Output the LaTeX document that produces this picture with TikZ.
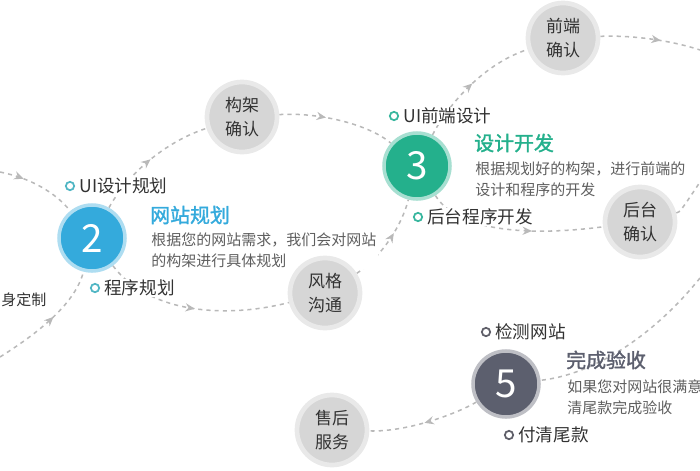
\documentclass[tikz,border=0pt]{standalone}
\usepackage{fontspec}
\setmainfont{Noto Sans CJK SC}
\newfontfamily\headfont[FakeBold=1.6]{Noto Sans CJK SC}
\usetikzlibrary{arrows.meta,decorations.markings,backgrounds}
\definecolor{stepblue}{RGB}{52,170,220}
\definecolor{stepgreen}{RGB}{36,176,140}
\definecolor{stepdark}{RGB}{92,95,110}
\definecolor{dotblue}{RGB}{80,182,196}
\definecolor{dotgreen}{RGB}{56,182,158}
\definecolor{dotdark}{RGB}{95,95,105}
\definecolor{flowgray}{RGB}{185,185,185}
\definecolor{ballgray}{RGB}{214,214,214}
\definecolor{ballrim}{RGB}{233,233,233}
\definecolor{txtdark}{RGB}{50,50,50}
\definecolor{txtgray}{RGB}{95,95,95}
\newcommand\picw{700}
\newcommand\pich{470}

\begin{document}
\begin{tikzpicture}[x=0.03cm, y=-0.03cm,
    stepball/.style={circle, fill=#1, draw=#1!40, line width=3pt, minimum size=1.98cm, inner sep=0pt, text=white, font=\fontsize{33}{33}\selectfont},
    ball/.style={circle, fill=ballgray, draw=ballrim, line width=4pt, minimum size=2.1cm, inner sep=0pt, align=center, text=txtdark, font=\fontsize{14.5}{21}\selectfont},
    ringdot/.style={circle, draw=#1, line width=1.5pt, fill=white, minimum size=0.25cm, inner sep=0pt},
    lbl/.style={anchor=west, text=txtdark, fill=white, inner sep=1pt, font=\fontsize{15}{18}\selectfont},
    ttl/.style={anchor=west, inner sep=0pt, font=\headfont\fontsize{17}{20}\selectfont},
    dsc/.style={anchor=west, align=left, text=txtgray, fill=white, inner sep=1pt, font=\fontsize{12.8}{18}\selectfont},
    flow/.style={draw=flowgray, line width=1.3pt, dash pattern=on 3.5pt off 3.5pt,
        postaction={decorate, decoration={markings, mark=at position #1 with {\arrow{Stealth[length=8pt,width=7pt]}}}}},
    flow/.default=0.5,
    link/.style={draw=flowgray, line width=1.3pt, dash pattern=on 3.5pt off 3.5pt}]
    \useasboundingbox (0,0) rectangle (\picw,\pich);
    \clip (0,0) rectangle (\picw,\pich);

    %Step 2
    \node at (92,238) [stepball=stepblue] (s2) {2};
    \node at (70,186) [ringdot=dotblue] (d2a) {};
    \node at (78,186) [lbl] (l2a) {UI设计规划};
    \node at (150,215) [ttl, text=stepblue] (t2) {网站规划};
    \node at (150,250) [dsc] (x2) {根据您的网站需求，我们会对网站\\的构架进行具体规划};
    \node at (95,288) [ringdot=dotblue] (d2b) {};
    \node at (103,288) [lbl] (l2b) {程序规划};
    \node at (0,300) [dsc, text=txtdark] (l1) {身定制};

    %Step 3
    \node at (417,166) [stepball=stepgreen] (s3) {3};
    \node at (394,116) [ringdot=dotgreen] (d3a) {};
    \node at (402,116) [lbl] (l3a) {UI前端设计};
    \node at (474,143) [ttl, text=stepgreen] (t3) {设计开发};
    \node at (474,179) [dsc] (x3) {根据规划好的构架，进行前端的\\设计和程序的开发};
    \node at (418,217) [ringdot=dotgreen] (d3b) {};
    \node at (426,217) [lbl] (l3b) {后台程序开发};

    %Step 5
    \node at (506,384) [stepball=stepdark] (s5) {5};
    \node at (486,332) [ringdot=dotdark] (d5a) {};
    \node at (494,332) [lbl] (l5a) {检测网站};
    \node at (566,360) [ttl, text=stepdark] (t5) {完成验收};
    \node at (566,397) [dsc] (x5) {如果您对网站很满意\\清尾款完成验收};
    \node at (509,435) [ringdot=dotdark] (d5b) {};
    \node at (517,435) [lbl] (l5b) {付清尾款};

    %Checks
    \node at (242,117) [ball] (kj) {构架\\确认};
    \node at (563,38) [ball] (qd) {前端\\确认};
    \node at (325,293) [ball] (fg) {风格\\沟通};
    \node at (640,222) [ball] (ht) {后台\\确认};
    \node at (332,430) [ball] (sh) {售后\\服务};

    \coordinate (inL) at (0,172);
    \coordinate (inB) at (0,357);
    \coordinate (outT) at (700,50);
    \coordinate (outM) at (700,182);
    \coordinate (inR) at (700,278);

    \begin{scope}[on background layer]
        \draw[flow=0.3] (inL) .. controls (30,178) and (55,192) .. (s2);
        \draw[flow=0.55] (inB) .. controls (35,335) and (75,305) .. (s2);
        \draw[flow] (s2) .. controls (130,170) and (170,140) .. (kj);
        \draw[flow] (s2) .. controls (150,315) and (230,318) .. (fg);
        \draw[flow=0.4] (kj) .. controls (320,112) and (370,125) .. (s3);
        \draw[flow=0.6] (fg) .. controls (375,262) and (400,232) .. (s3);
        \draw[flow] (s3) .. controls (445,110) and (480,65) .. (qd);
        \draw[flow=0.6] (s3) .. controls (460,235) and (540,235) .. (ht);
        \draw[flow=0.6] (qd) .. controls (630,35) and (670,40) .. (outT);
        \draw[link] (ht) .. controls (680,212) .. (outM);
        \draw[link] (inR) .. controls (650,340) and (590,375) .. (s5);
        \draw[flow] (s5) .. controls (460,412) and (410,432) .. (sh);
    \end{scope}
\end{tikzpicture}
\end{document}
